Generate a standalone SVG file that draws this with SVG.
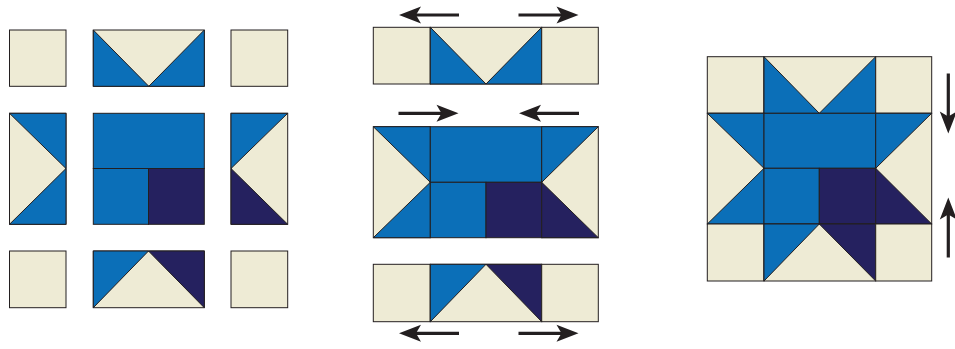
<svg xmlns="http://www.w3.org/2000/svg" xmlns:xlink="http://www.w3.org/1999/xlink" width="955" height="349" viewBox="0 0 955 349">
<style>
.c{fill:#EEEBD5}
.b{fill:#0B6FB8}
.n{fill:#25215F}
.c,.b,.n{stroke:#231F20;stroke-width:1;stroke-linejoin:miter}
.sh{stroke:#231F20;stroke-width:3.2;fill:none}
.hd{fill:#231F20}
</style>
<defs>
<g id="arrow">
<line class="sh" x1="15" y1="0" x2="60" y2="0"/>
<path class="hd" d="M0,0 L22,-8.5 L17,0 L22,8.5 Z"/>
</g>
</defs>
<rect width="955" height="349" fill="#FFFFFF"/>

<!-- Left panel: separated pieces -->
<g id="left-panel">
<g id="l-tl"><rect class="c" x="9.5" y="30" width="56.5" height="56.3"/></g>
<g id="l-tm">
<rect class="c" x="93.3" y="30" width="111" height="56.3"/>
<polygon class="b" points="93.3,30 148.8,86.3 93.3,86.3"/>
<polygon class="b" points="204.3,30 204.3,86.3 148.8,86.3"/>
</g>
<g id="l-tr"><rect class="c" x="231" y="30" width="56.7" height="56.3"/></g>
<g id="l-ml">
<rect class="c" x="9.5" y="113.3" width="56.5" height="111"/>
<polygon class="b" points="9.5,113.3 66,113.3 66,168.5"/>
<polygon class="b" points="9.5,224.3 66,168.5 66,224.3"/>
</g>
<g id="l-mc">
<rect class="b" x="93.3" y="113.3" width="111" height="55.2"/>
<rect class="b" x="93.3" y="168.5" width="55.2" height="55.8"/>
<rect class="n" x="148.5" y="168.5" width="55.8" height="55.8"/>
</g>
<g id="l-mr">
<rect class="c" x="231" y="113.3" width="56.7" height="111"/>
<polygon class="b" points="231,113.3 287.7,113.3 231,168.5"/>
<polygon class="n" points="231,168.5 287.7,224.3 231,224.3"/>
</g>
<g id="l-bl"><rect class="c" x="9.5" y="251" width="56.5" height="56.7"/></g>
<g id="l-bm">
<rect class="c" x="93.3" y="251" width="111" height="56.7"/>
<polygon class="b" points="93.3,251 148.5,251 93.3,307.7"/>
<polygon class="n" points="148.5,251 204.3,251 204.3,307.7"/>
</g>
<g id="l-br"><rect class="c" x="231" y="251" width="56.7" height="56.7"/></g>
</g>

<!-- Middle panel: rows -->
<g id="middle-panel">
<g id="m-top">
<rect class="c" x="373.3" y="27.3" width="57" height="56.7"/>
<rect class="c" x="430.3" y="27.3" width="111.4" height="56.7"/>
<polygon class="b" points="430.3,27.3 486,84 430.3,84"/>
<polygon class="b" points="541.7,27.3 541.7,84 486,84"/>
<rect class="c" x="541.7" y="27.3" width="56.6" height="56.7"/>
</g>
<g id="m-mid">
<rect class="c" x="373.3" y="126.7" width="57" height="111"/>
<polygon class="b" points="373.3,126.7 430.3,126.7 430.3,182.3"/>
<polygon class="b" points="373.3,237.7 430.3,182.3 430.3,237.7"/>
<rect class="b" x="430.3" y="126.7" width="111.4" height="55.6"/>
<rect class="b" x="430.3" y="182.3" width="55.7" height="55.4"/>
<rect class="n" x="486" y="182.3" width="55.7" height="55.4"/>
<rect class="c" x="541.7" y="126.7" width="56.6" height="111"/>
<polygon class="b" points="541.7,126.7 598.3,126.7 541.7,182.3"/>
<polygon class="n" points="541.7,182.3 598.3,237.7 541.7,237.7"/>
</g>
<g id="m-bot">
<rect class="c" x="373.3" y="264.3" width="57" height="57.4"/>
<rect class="c" x="430.3" y="264.3" width="111.4" height="57.4"/>
<polygon class="b" points="430.3,264.3 486,264.3 430.3,321.7"/>
<polygon class="n" points="486,264.3 541.7,264.3 541.7,321.7"/>
<rect class="c" x="541.7" y="264.3" width="56.6" height="57.4"/>
</g>
</g>

<!-- Right panel: finished block -->
<g id="right-panel">
<rect class="c" x="707.3" y="56.7" width="56.7" height="56.6"/>
<rect class="c" x="764" y="56.7" width="111.7" height="56.6"/>
<polygon class="b" points="764,56.7 819.3,113.3 764,113.3"/>
<polygon class="b" points="875.7,56.7 875.7,113.3 819.3,113.3"/>
<rect class="c" x="875.7" y="56.7" width="56" height="56.6"/>
<rect class="c" x="707.3" y="113.3" width="56.7" height="110.7"/>
<polygon class="b" points="707.3,113.3 764,113.3 764,168.3"/>
<polygon class="b" points="707.3,224 764,168.3 764,224"/>
<rect class="b" x="764" y="113.3" width="111.7" height="55"/>
<rect class="b" x="764" y="168.3" width="55.3" height="55.7"/>
<rect class="n" x="819.3" y="168.3" width="56.4" height="55.7"/>
<rect class="c" x="875.7" y="113.3" width="56" height="110.7"/>
<polygon class="b" points="875.7,113.3 931.7,113.3 875.7,168.3"/>
<polygon class="n" points="875.7,168.3 931.7,224 875.7,224"/>
<rect class="c" x="707.3" y="224" width="56.7" height="57"/>
<rect class="c" x="764" y="224" width="111.7" height="57"/>
<polygon class="b" points="764,224 819.3,224 764,281"/>
<polygon class="n" points="819.3,224 875.7,224 875.7,281"/>
<rect class="c" x="875.7" y="224" width="56" height="57"/>
</g>

<!-- Connectors: pressing arrows -->
<g id="arrows">
<use xlink:href="#arrow" href="#arrow" transform="translate(399,15)"/>
<use xlink:href="#arrow" href="#arrow" transform="translate(578.5,15) rotate(180)"/>
<use xlink:href="#arrow" href="#arrow" transform="translate(458.5,113.3) rotate(180)"/>
<use xlink:href="#arrow" href="#arrow" transform="translate(519,113.3)"/>
<use xlink:href="#arrow" href="#arrow" transform="translate(399,333.3)"/>
<use xlink:href="#arrow" href="#arrow" transform="translate(578.5,333.3) rotate(180)"/>
<use xlink:href="#arrow" href="#arrow" transform="translate(948.3,133.5) rotate(-90)"/>
<use xlink:href="#arrow" href="#arrow" transform="translate(948.3,197.5) rotate(90)"/>
</g>
</svg>
